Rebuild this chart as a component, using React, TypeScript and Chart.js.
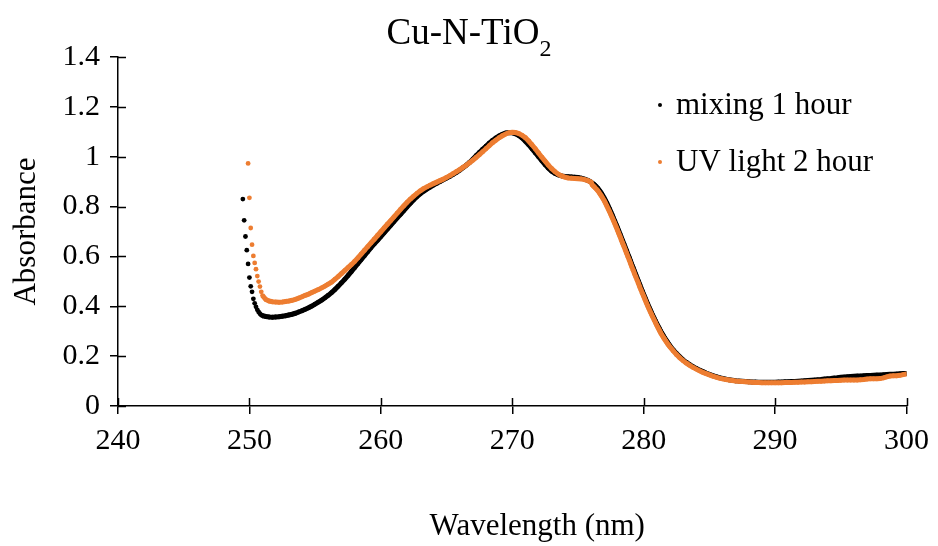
import React, { useEffect, useRef } from 'react';
import { Chart, registerables } from 'chart.js';

Chart.register(...registerables);

const FONT = '"Liberation Serif", "Times New Roman", serif';

const chartTitle = 'Cu-N-TiO';
const chartTitleSub = '2';
const xAxisTitle = 'Wavelength (nm)';
const yAxisTitle = 'Absorbance';
const seriesNames = ['mixing 1 hour', 'UV light 2 hour'];
const seriesColors = ['#000000', '#ED7D31'];

const xTicks = [240, 250, 260, 270, 280, 290, 300];
const xTickLabels = ['240', '250', '260', '270', '280', '290', '300'];
const yTicks = [0, 0.2, 0.4, 0.6, 0.8, 1.0, 1.2, 1.4];
const yTickLabels = ['0', '0.2', '0.4', '0.6', '0.8', '1', '1.2', '1.4'];

// Wavelengths (nm): 0.1 nm steps where the curves are steep, 0.25 nm elsewhere
const wavelengths = [
  249.5, 249.6, 249.7, 249.8, 249.9, 250.0, 250.1, 250.2, 250.3, 250.4, 250.5, 250.6, 250.7, 250.8, 250.9, 251.0,
  251.25, 251.5, 251.75, 252.0,
  252.25, 252.5, 252.75, 253.0,
  253.25, 253.5, 253.75, 254.0,
  254.25, 254.5, 254.75, 255.0,
  255.25, 255.5, 255.75, 256.0,
  256.25, 256.5, 256.75, 257.0,
  257.25, 257.5, 257.75, 258.0,
  258.25, 258.5, 258.75, 259.0,
  259.25, 259.5, 259.75, 260.0,
  260.25, 260.5, 260.75, 261.0,
  261.25, 261.5, 261.75, 262.0,
  262.25, 262.5, 262.75, 263.0,
  263.25, 263.5, 263.75, 264.0,
  264.25, 264.5, 264.75, 265.0,
  265.25, 265.5, 265.75, 266.0,
  266.25, 266.5, 266.75, 267.0,
  267.25, 267.5, 267.75, 268.0,
  268.25, 268.5, 268.75, 269.0,
  269.25, 269.5, 269.75, 270.0,
  270.25, 270.5, 270.75, 271.0,
  271.25, 271.5, 271.75, 272.0,
  272.25, 272.5, 272.75, 273.0,
  273.25, 273.5, 273.75, 274.0,
  274.25, 274.5, 274.75, 275.0,
  275.25, 275.5, 275.75, 276.0,
  276.1, 276.2, 276.3, 276.4, 276.5, 276.6, 276.7, 276.8, 276.9, 277.0,
  277.1, 277.2, 277.3, 277.4, 277.5, 277.6, 277.7, 277.8, 277.9, 278.0,
  278.1, 278.2, 278.3, 278.4, 278.5, 278.6, 278.7, 278.8, 278.9, 279.0,
  279.1, 279.2, 279.3, 279.4, 279.5, 279.6, 279.7, 279.8, 279.9, 280.0,
  280.1, 280.2, 280.3, 280.4, 280.5, 280.6, 280.7, 280.8, 280.9, 281.0,
  281.1, 281.2, 281.3, 281.4, 281.5, 281.6, 281.7, 281.8, 281.9, 282.0,
  282.25, 282.5, 282.75, 283.0,
  283.25, 283.5, 283.75, 284.0,
  284.25, 284.5, 284.75, 285.0,
  285.25, 285.5, 285.75, 286.0,
  286.25, 286.5, 286.75, 287.0,
  287.25, 287.5, 287.75, 288.0,
  288.25, 288.5, 288.75, 289.0,
  289.25, 289.5, 289.75, 290.0,
  290.25, 290.5, 290.75, 291.0,
  291.25, 291.5, 291.75, 292.0,
  292.25, 292.5, 292.75, 293.0,
  293.25, 293.5, 293.75, 294.0,
  294.25, 294.5, 294.75, 295.0,
  295.25, 295.5, 295.75, 296.0,
  296.25, 296.5, 296.75, 297.0,
  297.25, 297.5, 297.75, 298.0,
  298.25, 298.5, 298.75, 299.0,
  299.25, 299.5, 299.75, 300.0,
];

const mixing1Hour = [
  0.83, 0.745, 0.68, 0.625, 0.57, 0.515, 0.48, 0.458, 0.43, 0.412, 0.398, 0.386, 0.377, 0.37, 0.365, 0.362,
  0.359, 0.357, 0.356, 0.357,
  0.358, 0.36, 0.362, 0.365,
  0.368, 0.372, 0.377, 0.382,
  0.388, 0.394, 0.401, 0.409,
  0.417, 0.425, 0.434, 0.444,
  0.455, 0.467, 0.48, 0.494,
  0.508, 0.523, 0.539, 0.555,
  0.571, 0.587, 0.603, 0.619,
  0.635, 0.65, 0.665, 0.68,
  0.695, 0.71, 0.725, 0.74,
  0.755, 0.769, 0.784, 0.799,
  0.813, 0.827, 0.84, 0.851,
  0.861, 0.87, 0.878, 0.886,
  0.893, 0.9, 0.907, 0.914,
  0.921, 0.929, 0.937, 0.946,
  0.956, 0.966, 0.977, 0.99,
  1.004, 1.017, 1.03, 1.042,
  1.054, 1.065, 1.075, 1.083,
  1.09, 1.095, 1.097, 1.096,
  1.092, 1.085, 1.075, 1.062,
  1.048, 1.032, 1.016, 1.0,
  0.984, 0.968, 0.954, 0.942,
  0.933, 0.927, 0.923, 0.921,
  0.92, 0.919, 0.918, 0.917,
  0.914, 0.91, 0.905, 0.898,
  0.894, 0.89, 0.885, 0.88, 0.874, 0.867, 0.86, 0.852, 0.843, 0.834,
  0.824, 0.814, 0.802, 0.791, 0.779, 0.767, 0.754, 0.742, 0.729, 0.716,
  0.703, 0.69, 0.676, 0.663, 0.65, 0.636, 0.623, 0.609, 0.596, 0.582,
  0.568, 0.555, 0.541, 0.528, 0.514, 0.501, 0.488, 0.474, 0.461, 0.448,
  0.435, 0.422, 0.41, 0.398, 0.386, 0.374, 0.363, 0.352, 0.341, 0.33,
  0.32, 0.31, 0.3, 0.291, 0.282, 0.273, 0.265, 0.257, 0.249, 0.242,
  0.225, 0.21, 0.197, 0.185,
  0.175, 0.166, 0.158, 0.151,
  0.144, 0.138, 0.132, 0.127,
  0.122, 0.118, 0.114, 0.111,
  0.108, 0.105, 0.103, 0.101,
  0.1, 0.099, 0.098, 0.097,
  0.096, 0.096, 0.095, 0.095,
  0.095, 0.095, 0.095, 0.095,
  0.096, 0.096, 0.097, 0.097,
  0.098, 0.098, 0.099, 0.1,
  0.101, 0.102, 0.103, 0.104,
  0.105, 0.106, 0.108, 0.109,
  0.11, 0.112, 0.113, 0.115,
  0.116, 0.117, 0.118, 0.119,
  0.12, 0.12, 0.121, 0.122,
  0.122, 0.123, 0.124, 0.124,
  0.125, 0.126, 0.127, 0.127,
  0.128, 0.129, 0.13, 0.13,
];

const uvLight2Hour = [
  null, null, null, null, 0.973, 0.835, 0.714, 0.647, 0.602, 0.574, 0.549, 0.521, 0.499, 0.479, 0.458, 0.443,
  0.427, 0.421, 0.418, 0.417,
  0.416, 0.417, 0.419, 0.421,
  0.424, 0.428, 0.433, 0.438,
  0.444, 0.449, 0.455, 0.461,
  0.467, 0.474, 0.481, 0.489,
  0.497, 0.508, 0.519, 0.531,
  0.543, 0.555, 0.567, 0.58,
  0.594, 0.609, 0.624, 0.639,
  0.654, 0.669, 0.684, 0.699,
  0.714, 0.729, 0.744, 0.759,
  0.774, 0.789, 0.803, 0.817,
  0.83, 0.842, 0.853, 0.863,
  0.872, 0.879, 0.886, 0.892,
  0.898, 0.904, 0.91, 0.917,
  0.924, 0.932, 0.94, 0.948,
  0.957, 0.966, 0.976, 0.986,
  0.997, 1.008, 1.02, 1.032,
  1.044, 1.056, 1.066, 1.076,
  1.084, 1.091, 1.096, 1.098,
  1.097, 1.093, 1.086, 1.076,
  1.063, 1.048, 1.032, 1.015,
  0.998, 0.982, 0.966, 0.952,
  0.94, 0.93, 0.923, 0.918,
  0.915, 0.914, 0.913, 0.912,
  0.911, 0.908, 0.904, 0.898,
  0.886, 0.881, 0.876, 0.87, 0.864, 0.857, 0.849, 0.841, 0.832, 0.823,
  0.813, 0.802, 0.791, 0.78, 0.768, 0.756, 0.744, 0.732, 0.719, 0.706,
  0.693, 0.68, 0.666, 0.653, 0.64, 0.626, 0.613, 0.599, 0.586, 0.572,
  0.558, 0.545, 0.531, 0.518, 0.505, 0.492, 0.478, 0.465, 0.452, 0.44,
  0.427, 0.414, 0.402, 0.39, 0.378, 0.367, 0.356, 0.345, 0.334, 0.323,
  0.313, 0.303, 0.293, 0.284, 0.275, 0.267, 0.259, 0.251, 0.244, 0.237,
  0.221, 0.206, 0.193, 0.182,
  0.172, 0.163, 0.155, 0.148,
  0.141, 0.135, 0.13, 0.125,
  0.12, 0.116, 0.112, 0.109,
  0.106, 0.104, 0.102, 0.1,
  0.099, 0.098, 0.097, 0.096,
  0.095, 0.094, 0.094, 0.093,
  0.093, 0.093, 0.093, 0.093,
  0.093, 0.093, 0.094, 0.094,
  0.094, 0.095, 0.095, 0.096,
  0.096, 0.097, 0.097, 0.098,
  0.099, 0.099, 0.1, 0.101,
  0.101, 0.102, 0.102, 0.103,
  0.104, 0.104, 0.104, 0.104,
  0.104, 0.105, 0.106, 0.108,
  0.109, 0.109, 0.109, 0.11,
  0.113, 0.117, 0.12, 0.121,
  0.121, 0.123, 0.126, 0.128,
];

// the first few readings stand apart as separate dots; the rest merge into a band
const bandStart = 251.0;

function toPoints(ys: (number | null)[]) {
  const pts: { x: number; y: number }[] = [];
  wavelengths.forEach((x, i) => {
    const y = ys[i];
    if (y !== null && y !== undefined) pts.push({ x, y });
  });
  return pts;
}

function makeDataset(i: number, ys: (number | null)[], order: number) {
  const color = seriesColors[i];
  return {
    label: seriesNames[i],
    data: toPoints(ys),
    backgroundColor: color,
    borderColor: color,
    showLine: true,
    borderWidth: 5,
    tension: 0,
    pointRadius: 2.4,
    pointBorderWidth: 0,
    segment: {
      borderColor: (c: any) => (c.p0.parsed.x < bandStart ? 'rgba(0,0,0,0)' : color),
    },
    order,
  };
}

const decorPlugin = {
  id: 'decor',
  afterDraw(chart: any) {
    const { ctx, chartArea } = chart;
    const xs = chart.scales.x;
    const ys = chart.scales.y;
    ctx.save();
    // inner halves of the crossing tick marks
    ctx.strokeStyle = '#000';
    ctx.lineWidth = 1.5;
    ctx.beginPath();
    xTicks.forEach((v) => {
      const px = Math.round(xs.getPixelForValue(v)) + 0.5;
      ctx.moveTo(px, chartArea.bottom);
      ctx.lineTo(px, chartArea.bottom - 8);
    });
    yTicks.forEach((v) => {
      const py = Math.round(ys.getPixelForValue(v)) + 0.5;
      ctx.moveTo(chartArea.left, py);
      ctx.lineTo(chartArea.left + 8, py);
    });
    ctx.stroke();

    ctx.fillStyle = '#000';
    // title with subscript
    const mainFont = `37px ${FONT}`;
    const subFont = `24px ${FONT}`;
    ctx.font = mainFont;
    const w1 = ctx.measureText(chartTitle).width;
    ctx.font = subFont;
    const w2 = ctx.measureText(chartTitleSub).width;
    const startX = chart.width / 2 - (w1 + w2) / 2;
    ctx.textAlign = 'left';
    ctx.textBaseline = 'alphabetic';
    ctx.font = mainFont;
    ctx.fillText(chartTitle, startX, 44);
    ctx.font = subFont;
    ctx.fillText(chartTitleSub, startX + w1, 56);

    // x axis title
    ctx.font = `31px ${FONT}`;
    ctx.textAlign = 'center';
    ctx.fillText(xAxisTitle, (chartArea.left + chartArea.right) / 2 + 25, 535);

    // y axis title
    ctx.save();
    ctx.translate(27, (chartArea.top + chartArea.bottom) / 2);
    ctx.rotate(-Math.PI / 2);
    ctx.textAlign = 'center';
    ctx.textBaseline = 'middle';
    ctx.fillText(yAxisTitle, 0, 0);
    ctx.restore();

    // legend
    const legendY = [105, 162];
    seriesNames.forEach((name, i) => {
      ctx.fillStyle = seriesColors[i];
      ctx.beginPath();
      ctx.arc(660, legendY[i], 2, 0, Math.PI * 2);
      ctx.fill();
      ctx.fillStyle = '#000';
      ctx.font = `31px ${FONT}`;
      ctx.textAlign = 'left';
      ctx.textBaseline = 'alphabetic';
      ctx.fillText(name, 676, legendY[i] + 9);
    });
    ctx.restore();
  },
};

export default function App() {
  const canvasRef = useRef<HTMLCanvasElement | null>(null);

  useEffect(() => {
    const canvas = canvasRef.current;
    if (!canvas) return;
    const chart = new Chart(canvas, {
      type: 'scatter',
      data: {
        datasets: [makeDataset(0, mixing1Hour, 2), makeDataset(1, uvLight2Hour, 1)],
      },
      options: {
        responsive: false,
        animation: false,
        devicePixelRatio: 1,
        layout: { padding: { left: 0, right: 31, top: 57, bottom: 0 } },
        plugins: {
          legend: { display: false },
          title: { display: false },
          tooltip: { enabled: false },
        },
        scales: {
          x: {
            type: 'linear',
            min: 240,
            max: 300,
            afterBuildTicks: (s: any) => {
              s.ticks = xTicks.map((v) => ({ value: v }));
            },
            afterFit: (s: any) => {
              s.height = 140;
            },
            grid: { drawOnChartArea: false, color: '#000', lineWidth: 1.5, tickLength: 8 },
            border: { color: '#000', width: 1.5 },
            ticks: {
              color: '#000',
              font: { family: FONT, size: 30 },
              padding: 9,
              maxRotation: 0,
              autoSkip: false,
              callback: (_v: any, i: number) => xTickLabels[i],
            },
          },
          y: {
            type: 'linear',
            min: 0,
            max: 1.4,
            afterBuildTicks: (s: any) => {
              s.ticks = yTicks.map((v) => ({ value: v }));
            },
            afterFit: (s: any) => {
              s.width = 118;
            },
            grid: { drawOnChartArea: false, color: '#000', lineWidth: 1.5, tickLength: 8 },
            border: { color: '#000', width: 1.5 },
            ticks: {
              color: '#000',
              font: { family: FONT, size: 30 },
              padding: 10,
              autoSkip: false,
              callback: (_v: any, i: number) => yTickLabels[i],
            },
          },
        },
      },
      plugins: [decorPlugin],
    } as any);
    return () => chart.destroy();
  }, []);

  return (
    <div style={{ position: 'fixed', left: 0, top: 0, width: 938, height: 546, background: '#fff' }}>
      <canvas ref={canvasRef} width={938} height={546} style={{ width: 938, height: 546, display: 'block' }} />
    </div>
  );
}
